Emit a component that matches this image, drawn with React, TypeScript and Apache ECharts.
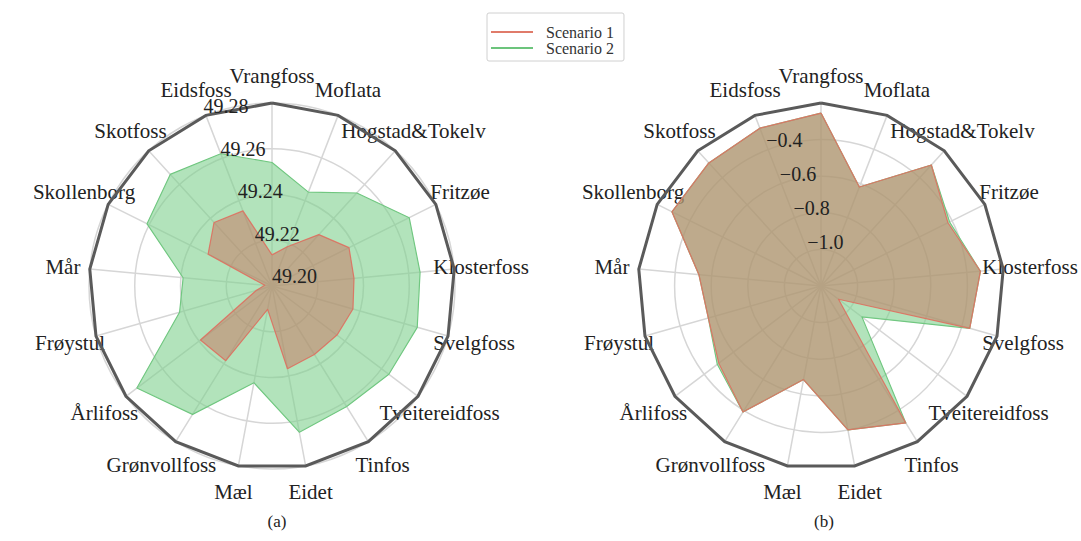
import React, { useEffect, useRef } from "react";
import * as echarts from "echarts";

// Stations, clockwise from the top, as they appear in the picture
const stations = [
  "Vrangfoss", "Moflata", "Hogstad&Tokelv", "Fritzøe", "Klosterfoss", "Svelgfoss",
  "Tveitereidfoss", "Tinfos", "Eidet", "Mæl", "Grønvollfoss", "Årlifoss",
  "Frøystul", "Mår", "Skollenborg", "Skotfoss", "Eidsfoss",
];
const seriesNames = ["Scenario 1", "Scenario 2"];

// Panel (a)
const aScenario1 = [49.2136, 49.2184, 49.2304, 49.2376, 49.236, 49.2368, 49.2356, 49.2352, 49.2368, 49.2104, 49.2384, 49.2392, 49.2072, 49.2032, 49.2312, 49.2376, 49.2352];
const aScenario2 = [49.254, 49.244, 49.255, 49.267, 49.265, 49.266, 49.264, 49.262, 49.265, 49.243, 49.266, 49.274, 49.242, 49.239, 49.261, 49.266, 49.262];
const aMin = 49.2, aMax = 49.28, aStep = 0.02;

// Panel (b)
const bScenario1 = [-0.255, -0.62, -0.305, -0.425, -0.325, -0.355, -1.08, -0.32, -0.4, -0.68, -0.39, -0.5, -0.56, -0.53, -0.29, -0.29, -0.275];
const bScenario2 = [-0.255, -0.62, -0.305, -0.415, -0.325, -0.355, -0.92, -0.32, -0.4, -0.68, -0.39, -0.49, -0.56, -0.53, -0.29, -0.29, -0.275];
const bMin = -1.2, bMax = -0.2, bStep = 0.2;

const panelLabels = ["(a)", "(b)"];

const SERIF = "'Liberation Serif', 'DejaVu Serif', serif";
const S1_LINE = "#e07b6a";
const S1_AREA = "#ca715d";
const S2_LINE = "#6cc47c";
const S2_AREA = "#7fd08d";

// ECharts lays indicators counter-clockwise; reorder so they read clockwise
const order = [0, ...Array.from({ length: stations.length - 1 }, (_, i) => stations.length - 1 - i)];
const reorder = (arr: any[]) => order.map((i) => arr[i]);

function buildRadars(center: number[], radius: number, min: number, max: number, step: number, labelFmt: (v: number) => string) {
  const n = Math.round((max - min) / step);
  const gridColors = Array.from({ length: n + 1 }, (_, i) => (i === n ? "rgba(0,0,0,0)" : "#d6d6d6"));
  const main = {
    center, radius, startAngle: 90, shape: "circle", splitNumber: n, z: 1,
    indicator: reorder(stations).map((name) => ({ name, min, max })),
    axisName: { color: "#222", fontSize: 21, fontFamily: SERIF, align: "center", verticalAlign: "middle" },
    nameGap: 27,
    axisLine: { lineStyle: { color: "#d6d6d6", width: 1.5 } },
    splitLine: { lineStyle: { color: gridColors, width: 1.5 } },
    splitArea: { show: false },
    axisTick: { show: false },
    axisLabel: { show: false },
  };
  const frame = {
    center, radius, startAngle: 90, shape: "polygon", splitNumber: 1, z: 4,
    indicator: stations.map(() => ({ name: "", min: 0, max: 1 })),
    axisName: { show: false },
    axisLine: { show: false },
    splitLine: { lineStyle: { color: "#5a5a5a", width: 3 } },
    splitArea: { show: false },
    axisTick: { show: false },
    axisLabel: { show: false },
  };
  const labels = {
    center, radius, startAngle: 112, shape: "circle", splitNumber: n, z: 5,
    indicator: [{ name: "", min, max }],
    axisName: { show: false },
    axisLine: { show: false },
    splitLine: { show: false },
    splitArea: { show: false },
    axisTick: { show: false },
    axisLabel: {
      show: true, color: "#222", fontSize: 20, fontFamily: SERIF, margin: 0,
      align: "left", verticalAlign: "bottom",
      formatter: labelFmt, showMinLabel: true, showMaxLabel: true,
    },
  };
  return [main, frame, labels];
}

function radarSeries(radarIndex: number, s1: number[], s2: number[]) {
  return {
    type: "radar",
    radarIndex,
    symbol: "none",
    z: 2,
    data: [
      {
        name: seriesNames[1], value: reorder(s2),
        itemStyle: { color: S2_LINE },
        lineStyle: { color: S2_LINE, width: 1.2 },
        areaStyle: { color: S2_AREA, opacity: 0.6 },
      },
      {
        name: seriesNames[0], value: reorder(s1),
        itemStyle: { color: S1_LINE },
        lineStyle: { color: S1_LINE, width: 1.2 },
        areaStyle: { color: S1_AREA, opacity: 0.5 },
      },
    ],
  };
}

export default function App() {
  const ref = useRef<HTMLDivElement>(null);
  useEffect(() => {
    if (!ref.current) return;
    const chart = echarts.init(ref.current, undefined, { renderer: "svg" });
    const fmtA = (v: number) => v.toFixed(2);
    const fmtB = (v: number) => {
      if (v <= bMin + 1e-6 || v >= bMax - 1e-6) return "";
      return (v < 0 ? "\u2212" : "") + Math.abs(v).toFixed(1);
    };
    const radarsA = buildRadars([272, 286], 183, aMin, aMax, aStep, fmtA);
    const radarsB = buildRadars([821, 286], 183, bMin, bMax, bStep, fmtB);
    chart.setOption({
      animation: false,
      backgroundColor: "#ffffff",
      textStyle: { fontFamily: SERIF },
      title: [
        { text: panelLabels[0], left: 272, top: 508, textAlign: "center", textStyle: { fontFamily: SERIF, fontSize: 17, fontWeight: "normal", color: "#222" } },
        { text: panelLabels[1], left: 819, top: 508, textAlign: "center", textStyle: { fontFamily: SERIF, fontSize: 17, fontWeight: "normal", color: "#222" } },
      ],
      legend: {
        data: seriesNames,
        orient: "vertical",
        left: 487,
        top: 13,
        icon: "rect",
        itemWidth: 42,
        itemHeight: 2,
        itemGap: 0,
        padding: [11, 10, 5, 4],
        borderColor: "#d0d0d0",
        borderWidth: 1,
        borderRadius: 2,
        textStyle: { fontFamily: SERIF, fontSize: 16, color: "#333", lineHeight: 16, padding: [0, 0, 0, 8] },
      },
      radar: [...radarsA, ...radarsB],
      series: [radarSeries(0, aScenario1, aScenario2), radarSeries(3, bScenario1, bScenario2)],
    });
    return () => chart.dispose();
  }, []);
  return <div ref={ref} style={{ position: "absolute", left: 0, top: 0, width: 1081, height: 541 }} />;
}
